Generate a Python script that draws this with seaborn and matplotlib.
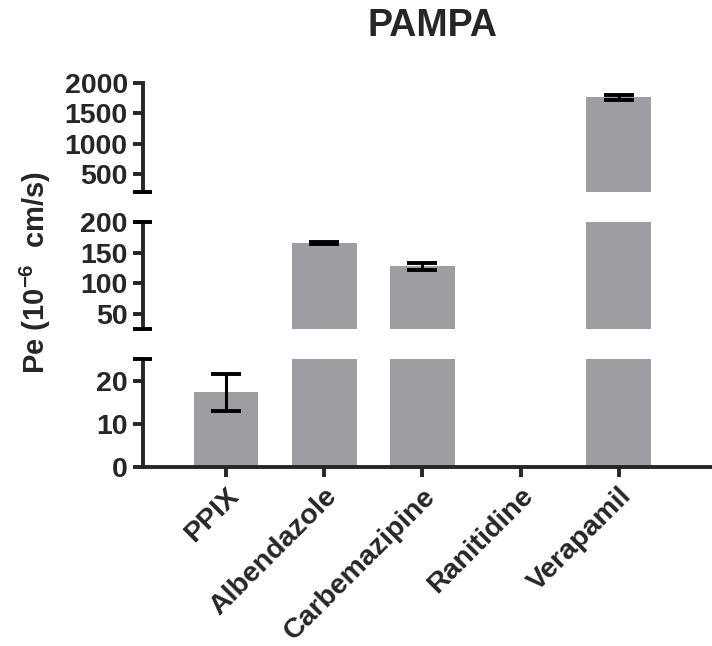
import matplotlib
matplotlib.use('Agg')
import matplotlib.pyplot as plt
from matplotlib.lines import Line2D
import matplotlib.transforms as mtransforms
import numpy as np
import pandas as pd
import seaborn as sns

# ---- data ----
compounds = ['PPIX', 'Albendazole', 'Carbemazipine', 'Ranitidine', 'Verapamil']
pe_mean = [17.3, 165.5, 127.7, 0.0, 1764.0]
pe_sd = [4.3, 1.2, 6.0, 0.0, 46.0]
title_text = 'PAMPA'
ylabel_text = r'Pe (10$^{-6}$  cm/s)'
seg_limits = [(0, 25), (25, 200), (200, 2000)]          # bottom, middle, top
seg_ticks = [[0, 10, 20], [50, 100, 150, 200], [500, 1000, 1500, 2000]]

sns.set_style('ticks')
plt.rcParams['font.family'] = ['Liberation Sans', 'DejaVu Sans']
plt.rcParams['font.weight'] = 'bold'
plt.rcParams['mathtext.default'] = 'regular'

W, H = 712, 646
fig = plt.figure(figsize=(W / 100, H / 100), dpi=100)

bar_color = '#9E9DA2'
lw = 2.8
fs = 20.5

# pixel boxes (top, bottom) for each segment
seg_px = [(359, 467), (222, 329), (83, 192)]
x_left, x_right = 143, 711

df = pd.DataFrame({'compound': compounds, 'pe': pe_mean, 'sd': pe_sd})
df['pos'] = np.arange(len(compounds))

axes = []
for i, ((ytop, ybot), lim, ticks) in enumerate(zip(seg_px, seg_limits, seg_ticks)):
    ax = fig.add_axes([x_left / W, 1 - ybot / H, (x_right - x_left) / W, (ybot - ytop) / H])
    sns.barplot(data=df, x='compound', y='pe', ax=ax, color=bar_color,
                saturation=1, width=0.66, errorbar=None, edgecolor='none')
    sub = df[(df['pe'] > lim[0]) & (df['pe'] <= lim[1]) & (df['sd'] > 0)]
    if len(sub):
        ax.errorbar(x=sub['pos'], y=sub['pe'], yerr=sub['sd'], fmt='none',
                    ecolor='black', elinewidth=2.2, capsize=11, capthick=2.8, zorder=5)
    ax.set_ylim(*lim)
    ax.set_xlim(-0.845, 4.94)
    ax.set_yticks(ticks)
    ax.set_yticklabels([str(t) for t in ticks], fontsize=fs, fontweight='bold')
    ax.set_xlabel('')
    ax.set_ylabel('')
    for s in ['top', 'right']:
        ax.spines[s].set_visible(False)
    ax.spines['left'].set_linewidth(lw)
    ax.tick_params(axis='y', length=7, width=lw, pad=4, direction='out')
    if i == 0:
        ax.spines['bottom'].set_linewidth(lw)
        ax.tick_params(axis='x', length=7, width=lw, pad=4, direction='out')
        ax.set_xticks(range(len(compounds)))
        ax.set_xticklabels(compounds, rotation=45, ha='right', va='center',
                           rotation_mode='anchor', fontsize=fs, fontweight='bold')
        off = mtransforms.ScaledTranslation(9 / 100, -10 / 100, fig.dpi_scale_trans)
        for lab in ax.get_xticklabels():
            lab.set_transform(lab.get_transform() + off)
    else:
        ax.spines['bottom'].set_visible(False)
        ax.tick_params(axis='x', length=0, labelbottom=False)
    ax.patch.set_alpha(0)
    axes.append(ax)

# break caps on the left spine
def cap(ypx):
    fig.add_artist(Line2D([133 / W, 152 / W], [1 - ypx / H, 1 - ypx / H],
                          transform=fig.transFigure, color='black', lw=lw,
                          solid_capstyle='butt'))

for ypx in [359, 329, 222, 192]:
    cap(ypx)

fig.text(432 / W, 1 - 26 / H, title_text, ha='center', va='center',
         fontsize=27, fontweight='bold')
fig.text(35 / W, 1 - 273 / H, ylabel_text, ha='center', va='center',
         rotation=90, fontsize=21, fontweight='bold')

fig.savefig('out.png', dpi=100)
